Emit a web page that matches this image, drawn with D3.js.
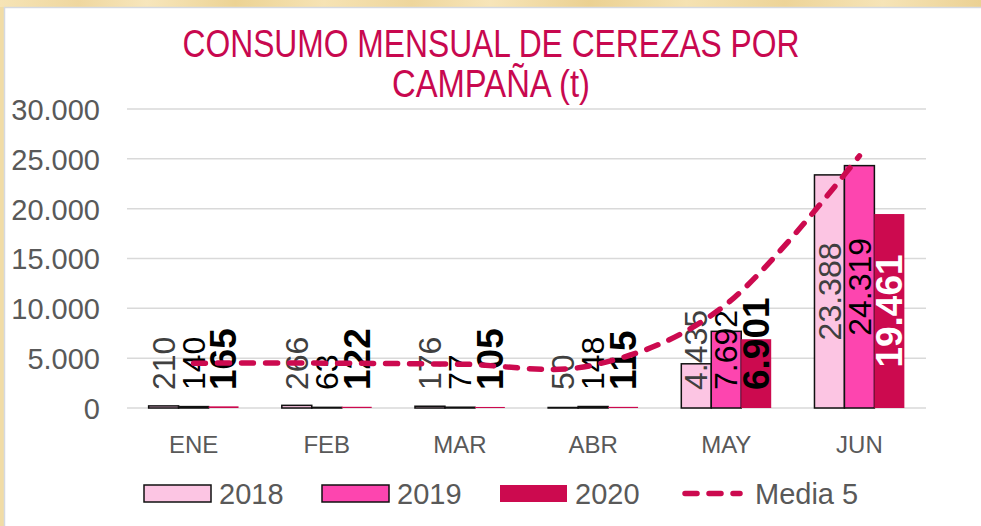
<!DOCTYPE html>
<html>
<head>
<meta charset="utf-8">
<script src="https://cdn.jsdelivr.net/npm/d3@7/dist/d3.min.js"></script>
<style>
  html, body { margin: 0; padding: 0; background: #fff; }
  svg { display: block; }
</style>
</head>
<body>
<svg id="chart" width="981" height="526"></svg>
<script>
// Monthly cherry consumption per campaign (tonnes)
const months = ["ENE", "FEB", "MAR", "ABR", "MAY", "JUN"];
const seriesNames = ["2018", "2019", "2020"];
const values2018 = [210, 266, 176, 50, 4435, 23388];
const values2019 = [140, 63, 77, 148, 7692, 24319];
const values2020 = [165, 122, 105, 115, 6901, 19461];
const media5 = [4500, 4500, 4400, 4300, 10400, 25300];
const yTicks = [0, 5000, 10000, 15000, 20000, 25000, 30000];

const seriesValues = [values2018, values2019, values2020];
const fills = ["#FCC5E3", "#FD45AF", "#CC0A4F"];
const strokes = ["#111", "#111", "none"];
const labelFill = ["#404040", "#000", "#000"];
const labelWeight = ["normal", "normal", "bold"];
const labelSize = [32, 32, 37];
const lineColor = "#CC0A4F";
const axisText = "#595959";

const svg = d3.select("#chart");
const W = 981, H = 526;

// parchment frame
const defs = svg.append("defs");
const grad = defs.append("linearGradient").attr("id", "parch").attr("x1", 0).attr("x2", 1);
[["0", "#F6E4B6"], ["0.08", "#EFD79F"], ["0.15", "#F7E6BC"], ["0.24", "#ECD394"], ["0.33", "#F6E3B4"],
 ["0.42", "#EED69C"], ["0.5", "#F7E5B9"], ["0.6", "#EBD192"], ["0.7", "#F5E2B2"], ["0.8", "#EDD498"],
 ["0.9", "#F6E4B7"], ["1", "#EBD193"]].forEach(([o, c]) => grad.append("stop").attr("offset", o).attr("stop-color", c));
svg.append("rect").attr("width", W).attr("height", H).attr("fill", "url(#parch)");
svg.append("rect").attr("x", 0).attr("y", 7).attr("width", 5).attr("height", H).attr("fill", "#F1DCA6");
svg.append("rect").attr("x", 4).attr("y", 7).attr("width", W - 4).attr("height", H - 7)
  .attr("fill", "#fff");
svg.append("path").attr("d", `M4.5,${H} V7.5 H${W}`).attr("fill", "none")
  .attr("stroke", "#D5D9E0").attr("stroke-width", 1.5);

// title (condensed)
const title = svg.append("text").attr("text-anchor", "middle")
  .attr("font-family", "'Liberation Sans', Arial, sans-serif")
  .attr("font-size", 39).attr("fill", "#C8084F");
title.append("tspan").attr("x", 491).attr("y", 57)
  .attr("textLength", 617).attr("lengthAdjust", "spacingAndGlyphs")
  .text("CONSUMO MENSUAL DE CEREZAS POR");
title.append("tspan").attr("x", 491).attr("y", 97)
  .attr("textLength", 198).attr("lengthAdjust", "spacingAndGlyphs")
  .text("CAMPAÑA (t)");

// scales
const x0 = d3.scaleBand().domain(months).range([127, 926]).paddingInner(0.325).paddingOuter(0.1625);
const x1 = d3.scaleBand().domain(seriesNames).range([0, x0.bandwidth()]);
const y = d3.scaleLinear().domain([0, 30000]).range([408, 109]);

// gridlines
svg.append("g").selectAll("line").data(yTicks).join("line")
  .attr("x1", 127).attr("x2", 926)
  .attr("y1", d => y(d)).attr("y2", d => y(d))
  .attr("stroke", "#D9D9D9").attr("stroke-width", 1.5);

// y axis labels
const yAxis = svg.append("g").attr("transform", "translate(100,0)")
  .call(d3.axisLeft(y).tickValues(yTicks).tickSize(0).tickPadding(0)
    .tickFormat(d => d3.format(",")(d).replace(/,/g, ".")));
yAxis.select(".domain").remove();
yAxis.selectAll("text").attr("font-family", "'Liberation Sans', Arial, sans-serif")
  .attr("font-size", 29).attr("fill", axisText).attr("dy", "0.36em");

// x axis labels
const xAxis = svg.append("g").attr("transform", "translate(0,408)")
  .call(d3.axisBottom(x0).tickSize(0).tickPadding(0));
xAxis.select(".domain").remove();
xAxis.selectAll("text").attr("font-family", "'Liberation Sans', Arial, sans-serif")
  .attr("font-size", 24).attr("fill", axisText).attr("dy", null).attr("y", 45);

// bars
const barData = [];
months.forEach((m, i) => seriesNames.forEach((s, j) => barData.push({ m, s, j, v: seriesValues[j][i] })));

svg.append("g").selectAll("rect").data(barData).join("rect")
  .attr("x", d => x0(d.m) + x1(d.s))
  .attr("y", d => y(d.v))
  .attr("width", x1.bandwidth())
  .attr("height", d => y(0) - y(d.v))
  .attr("fill", d => fills[d.j])
  .attr("stroke", d => strokes[d.j])
  .attr("stroke-width", 1.5);

// value labels (rotated, centred in the bar, kept clear of the axis)
const fmt = v => d3.format(",")(v).replace(/,/g, ".");
const labels = svg.append("g").selectAll("text").data(barData).join("text")
  .attr("text-anchor", "middle")
  .attr("dy", "0.35em")
  .attr("font-family", "'Liberation Sans', Arial, sans-serif")
  .attr("font-size", d => labelSize[d.j])
  .attr("font-weight", d => labelWeight[d.j])
  .text(d => fmt(d.v));
labels.each(function (d) {
  const len = this.getComputedTextLength();
  const mid = (y(d.v) + y(0)) / 2;
  const lowest = y(0) - 18 - len / 2;
  const cy = Math.min(mid, lowest);
  const fits = mid <= lowest;
  const cx = x0(d.m) + x1(d.s) + x1.bandwidth() / 2;
  d3.select(this)
    .attr("transform", `translate(${cx},${cy}) rotate(-90)`)
    .attr("fill", d.j === 2 && fits ? "#fff" : labelFill[d.j]);
});

// five-year average
const line = d3.line()
  .x((d, i) => x0(months[i]) + x0.bandwidth() / 2)
  .y(d => y(d))
  .curve(d3.curveCatmullRom.alpha(0));
svg.append("path").datum(media5)
  .attr("d", line)
  .attr("fill", "none")
  .attr("stroke", lineColor)
  .attr("stroke-width", 5.5)
  .attr("stroke-linecap", "round")
  .attr("stroke-dasharray", "12,12");

// legend
const legend = svg.append("g").attr("font-family", "'Liberation Sans', Arial, sans-serif")
  .attr("font-size", 29).attr("fill", axisText);
const legX = [144, 322, 500];
seriesNames.forEach((s, j) => {
  legend.append("rect").attr("x", legX[j]).attr("y", 485).attr("width", 67).attr("height", 17)
    .attr("fill", fills[j]).attr("stroke", strokes[j]).attr("stroke-width", 1.5);
  legend.append("text").attr("x", legX[j] + 75).attr("y", 504).text(s);
});
legend.append("line").attr("x1", 685).attr("x2", 740).attr("y1", 493.5).attr("y2", 493.5)
  .attr("stroke", lineColor).attr("stroke-width", 5.5).attr("stroke-linecap", "round")
  .attr("stroke-dasharray", "12,12");
legend.append("text").attr("x", 755).attr("y", 504).text("Media 5");
</script>
</body>
</html>
